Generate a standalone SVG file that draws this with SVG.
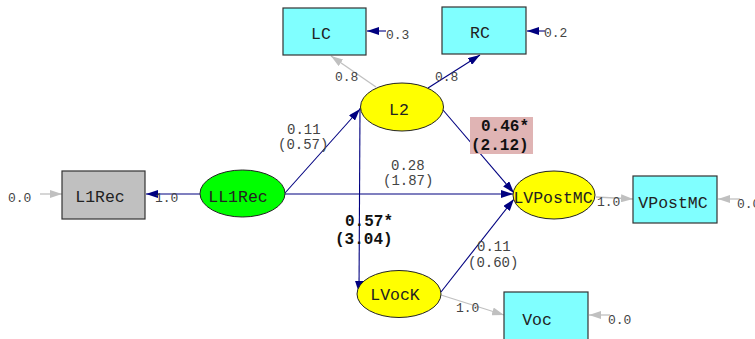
<svg xmlns="http://www.w3.org/2000/svg" width="755" height="339" viewBox="0 0 755 339">
<style>
.box{stroke:#333;stroke-width:1.2}
.obs{fill:#80FFFF}
.ell{stroke:#222;stroke-width:1}
.nt{font-family:"Liberation Mono","DejaVu Sans Mono",monospace;font-size:16.5px;fill:#222;text-anchor:middle}
.lb{font-family:"Liberation Mono","DejaVu Sans Mono",monospace;font-size:14px;fill:#444}
.sm{font-family:"Liberation Mono","DejaVu Sans Mono",monospace;font-size:13px;fill:#444}
.bd{font-family:"Liberation Mono","DejaVu Sans Mono",monospace;font-size:16px;font-weight:bold;fill:#111}
.nv{stroke:#000080;stroke-width:1.1;fill:none;marker-end:url(#an)}
.gr{stroke:#C0C0C0;stroke-width:1.3;fill:none;marker-end:url(#ag)}
</style>
<defs>
<marker id="an" markerUnits="userSpaceOnUse" markerWidth="12" markerHeight="8" refX="12" refY="4" orient="auto"><path d="M0,0 L12,4 L0,8 z" fill="#000080"/></marker>
<marker id="ag" markerUnits="userSpaceOnUse" markerWidth="12" markerHeight="8" refX="12" refY="4" orient="auto"><path d="M0,0 L12,4 L0,8 z" fill="#C0C0C0"/></marker>
</defs>
<g id="connectors">
<line class="gr" x1="376" y1="87" x2="331" y2="56"/>
<line class="nv" x1="428" y1="88" x2="480" y2="55"/>
<line class="nv" x1="386" y1="31" x2="367" y2="31"/>
<line class="nv" x1="545" y1="31" x2="527" y2="31"/>
<line class="nv" x1="285" y1="193" x2="360" y2="109"/>
<line class="nv" x1="285" y1="194" x2="513" y2="194"/>
<line class="nv" x1="443" y1="110" x2="514" y2="193"/>
<line class="nv" x1="360" y1="108" x2="359" y2="293"/>
<line class="nv" x1="441" y1="292" x2="514" y2="199"/>
<line class="nv" x1="200" y1="194" x2="146" y2="194"/>
<line class="gr" x1="40" y1="194" x2="62" y2="194"/>
<line class="gr" x1="596" y1="197" x2="633" y2="199"/>
<line class="gr" x1="740" y1="199" x2="718" y2="199"/>
<line class="gr" x1="441" y1="295" x2="504" y2="315"/>
<line class="gr" x1="610" y1="315" x2="589" y2="315"/>
<text class="sm" x="335" y="81">0.8</text>
<text class="sm" x="435" y="81">0.8</text>
<text class="sm" x="386" y="39">0.3</text>
<text class="sm" x="544" y="37">0.2</text>
<text class="sm" x="155" y="202">1.0</text>
<text class="sm" x="8" y="202">0.0</text>
<text class="sm" x="597" y="206">1.0</text>
<text class="sm" x="737" y="208">0.0</text>
<text class="sm" x="456" y="312">1.0</text>
<text class="sm" x="608" y="324">0.0</text>
<text class="lb" x="287" y="134">0.11</text>
<text class="lb" x="278" y="149">(0.57)</text>
<text class="lb" x="391" y="170">0.28</text>
<text class="lb" x="383" y="185">(1.87)</text>
<text class="lb" x="477" y="251">0.11</text>
<text class="lb" x="468" y="267">(0.60)</text>
<rect x="470" y="117" width="63" height="37" fill="#E0B4B4"/>
<text class="bd" x="481" y="131">0.46*</text>
<text class="bd" x="471" y="150">(2.12)</text>
<text class="bd" x="345" y="226">0.57*</text>
<text class="bd" x="335" y="244">(3.04)</text>
</g>
<g id="LC"><rect class="box obs" x="283" y="8" width="83" height="47"/><text class="nt" x="321" y="39">LC</text></g>
<g id="RC"><rect class="box obs" x="442" y="7" width="84" height="47"/><text class="nt" x="480" y="38">RC</text></g>
<g id="L2"><ellipse class="ell" cx="402" cy="107" rx="41.5" ry="24" fill="#FFFF00"/><text class="nt" x="399" y="115">L2</text></g>
<g id="LL1Rec"><ellipse class="ell" cx="242.5" cy="193.5" rx="42.5" ry="23.5" fill="#00FF00"/><text class="nt" x="238" y="202">LL1Rec</text></g>
<g id="L1Rec"><rect class="box" x="62" y="171" width="83" height="48" fill="#C0C0C0"/><text class="nt" x="100" y="202">L1Rec</text></g>
<g id="LVPostMC"><ellipse class="ell" cx="554" cy="195" rx="41" ry="24" fill="#FFFF00"/><text class="nt" x="553" y="203">LVPostMC</text></g>
<g id="VPostMC"><rect class="box obs" x="633" y="176" width="84" height="47"/><text class="nt" x="673" y="208">VPostMC</text></g>
<g id="LVocK"><ellipse class="ell" cx="399" cy="294" rx="42" ry="23.5" fill="#FFFF00"/><text class="nt" x="395" y="300">LVocK</text></g>
<g id="Voc"><rect class="box obs" x="504" y="292" width="84" height="55"/><text class="nt" x="537" y="325">Voc</text></g>
</svg>
